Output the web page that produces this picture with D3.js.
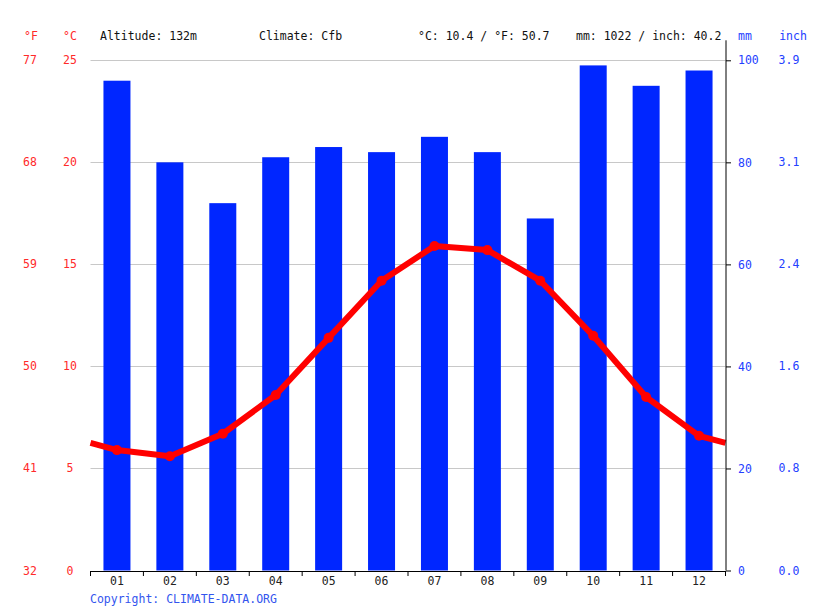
<!DOCTYPE html>
<html>
<head>
<meta charset="utf-8">
<title>Climate chart</title>
<style>
  body { margin: 0; background: #fff; }
  svg { font-family: "DejaVu Sans Mono", monospace; font-size: 11.5px; }
  .grid line { stroke: #c8c8c8; stroke-width: 1; }
  .red { fill: #ff2a2a; }
  .blue { fill: #2340ff; }
</style>
<script src="https://d3js.org/d3.v7.min.js"></script>
</head>
<body>
<div id="chart"></div>
<script>
// data
var months = ["01", "02", "03", "04", "05", "06", "07", "08", "09", "10", "11", "12"];
var precipMm = [96, 80, 72, 81, 83, 82, 85, 82, 69, 99, 95, 98];
var tempC = [5.9, 5.6, 6.7, 8.6, 11.4, 14.2, 15.9, 15.7, 14.2, 11.5, 8.5, 6.6];
var cTicks = [0, 5, 10, 15, 20, 25];
var fLabels = ["32", "41", "50", "59", "68", "77"];
var mmTicks = [0, 20, 40, 60, 80, 100];
var inchLabels = ["0.0", "0.8", "1.6", "2.4", "3.1", "3.9"];
var headerTexts = ["Altitude: 132m", "Climate: Cfb", "°C: 10.4 / °F: 50.7", "mm: 1022 / inch: 40.2"];

var width = 815, height = 611;
var plotL = 90.5, plotR = 725.5, plotT = 60.3, plotB = 570.5;

var svg = d3.select("#chart").append("svg")
  .attr("width", width)
  .attr("height", height);

var x = d3.scaleBand().domain(months).range([plotL, plotR]);
var yT = d3.scaleLinear().domain([0, 25]).range([plotB, plotT]);
var yP = d3.scaleLinear().domain([0, 100]).range([plotB, plotT]);

// gridlines
svg.append("g").attr("class", "grid")
  .selectAll("line")
  .data(cTicks.slice(1)).enter()
  .append("line")
  .attr("x1", plotL).attr("x2", plotR)
  .attr("y1", d => Math.round(yT(d)) + 0.5)
  .attr("y2", d => Math.round(yT(d)) + 0.5);

// bars
var barW = 27;
svg.append("g")
  .selectAll("rect")
  .data(precipMm).enter()
  .append("rect")
  .attr("x", (d, i) => x(months[i]) + x.bandwidth() / 2 - barW / 2)
  .attr("y", d => yP(d))
  .attr("width", barW)
  .attr("height", d => plotB - yP(d))
  .attr("fill", "#0026ff");

// temperature line, wrapped to the edges with Dec/Jan midpoint
var edgeT = (tempC[0] + tempC[11]) / 2;
var pts = [[plotL, yT(edgeT)]];
tempC.forEach(function(t, i) { pts.push([x(months[i]) + x.bandwidth() / 2, yT(t)]); });
pts.push([plotR, yT(edgeT)]);

svg.append("path")
  .attr("d", d3.line()(pts))
  .attr("fill", "none")
  .attr("stroke", "#ff0000")
  .attr("stroke-width", 6)
  .attr("stroke-linejoin", "round");

svg.append("g")
  .selectAll("circle")
  .data(tempC).enter()
  .append("circle")
  .attr("cx", (d, i) => x(months[i]) + x.bandwidth() / 2)
  .attr("cy", d => yT(d))
  .attr("r", 5)
  .attr("fill", "#ff0000");

// bottom axis
var xAxis = d3.axisBottom(x).tickSize(0).tickPadding(6);
var gx = svg.append("g")
  .attr("transform", `translate(0, ${plotB + 0.5})`)
  .call(xAxis);
gx.select(".domain").attr("stroke", "#000");
gx.selectAll("text").attr("fill", "#222").style("font-size", "11.5px").style("font-family", "DejaVu Sans Mono");
gx.selectAll(".sep")
  .data(d3.range(13)).enter()
  .append("line")
  .attr("x1", d => plotL + d * x.step()).attr("x2", d => plotL + d * x.step())
  .attr("y1", 0).attr("y2", 5)
  .attr("stroke", "#000");

// right axis (mm)
var yAxisR = d3.axisRight(yP).tickValues(mmTicks).tickSize(5).tickPadding(7);
var gr = svg.append("g")
  .attr("transform", `translate(${plotR + 0.5}, 0)`)
  .call(yAxisR);
gr.select(".domain").attr("d", `M0,${plotT - 20}V${plotB}`).attr("stroke", "#000");
gr.selectAll("text").attr("class", "blue").attr("fill", null).style("font-size", "11.5px").style("font-family", "DejaVu Sans Mono");

// inch labels
svg.append("g")
  .selectAll("text")
  .data(mmTicks).enter()
  .append("text")
  .attr("class", "blue")
  .attr("x", 789).attr("y", d => yP(d) + 4)
  .attr("text-anchor", "middle")
  .text((d, i) => inchLabels[i]);

// left labels (°C and °F)
svg.append("g")
  .selectAll("text")
  .data(cTicks).enter()
  .append("text")
  .attr("class", "red")
  .attr("x", 70).attr("y", d => yT(d) + 4)
  .attr("text-anchor", "middle")
  .text(d => d);

svg.append("g")
  .selectAll("text")
  .data(cTicks).enter()
  .append("text")
  .attr("class", "red")
  .attr("x", 30).attr("y", d => yT(d) + 4)
  .attr("text-anchor", "middle")
  .text((d, i) => fLabels[i]);

// unit headers
svg.append("text").attr("class", "red").attr("x", 31).attr("y", 40).attr("text-anchor", "middle").text("°F");
svg.append("text").attr("class", "red").attr("x", 70).attr("y", 40).attr("text-anchor", "middle").text("°C");
svg.append("text").attr("class", "blue").attr("x", 745).attr("y", 40).attr("text-anchor", "middle").text("mm");
svg.append("text").attr("class", "blue").attr("x", 793).attr("y", 40).attr("text-anchor", "middle").text("inch");

// header texts
var headerX = [100, 259, 418, 576];
svg.append("g")
  .selectAll("text")
  .data(headerTexts).enter()
  .append("text")
  .attr("x", (d, i) => headerX[i]).attr("y", 40)
  .attr("fill", "#111")
  .text(d => d);

svg.append("text")
  .attr("x", 90).attr("y", 603)
  .attr("fill", "#3355ee")
  .text("Copyright: CLIMATE-DATA.ORG");
</script>
</body>
</html>
